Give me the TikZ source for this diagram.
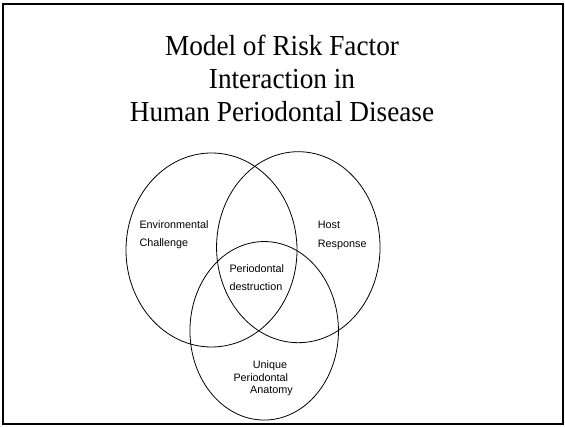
\documentclass[tikz,border=0pt]{standalone}
\usepackage{fontspec}
\setmainfont{Liberation Serif}
\newfontfamily\labelfont{Liberation Sans}
\usetikzlibrary{shapes.geometric}
\tikzset{
  ring/.style={draw, ellipse, inner sep=0pt, line width=0.8pt},
  lbl/.style={anchor=base west, inner sep=0pt, font=\labelfont\fontsize{10.8}{18.4}\selectfont, align=left},
  ttl/.style={anchor=base, inner sep=0pt, xscale=0.94, font=\fontsize{29}{33.3}\selectfont, align=center}
}
\begin{document}
\begin{tikzpicture}[x=1pt, y=-1pt]
\useasboundingbox (0,0) rectangle (565,427);
\draw[line width=2pt] (3,4) rectangle (563,424);
\node[ttl] (title) at (282,121.7) {Model of Risk Factor\\Interaction in\\Human Periodontal Disease};

\node[ring, minimum width=171pt, minimum height=194pt] (env) at (211.5,250) {};
\node[ring, minimum width=163.5pt, minimum height=191pt] (host) at (298.3,247.2) {};
\node[ring, minimum width=148.5pt, minimum height=178.5pt] (anat) at (264.2,330.8) {};

\node[lbl] (envtxt) at (139.3,246.7) {Environmental\\Challenge};
\node[lbl] (hosttxt) at (317.7,247.3) {Host\\Response};
\node[lbl] (destr) at (229.3,290.7) {Periodontal\\destruction};
\node[lbl] (anat1) at (252.7,369) {Unique};
\node[lbl] (anat2) at (233.3,381.5) {Periodontal};
\node[lbl] (anat3) at (250,394) {Anatomy};
\end{tikzpicture}
\end{document}
